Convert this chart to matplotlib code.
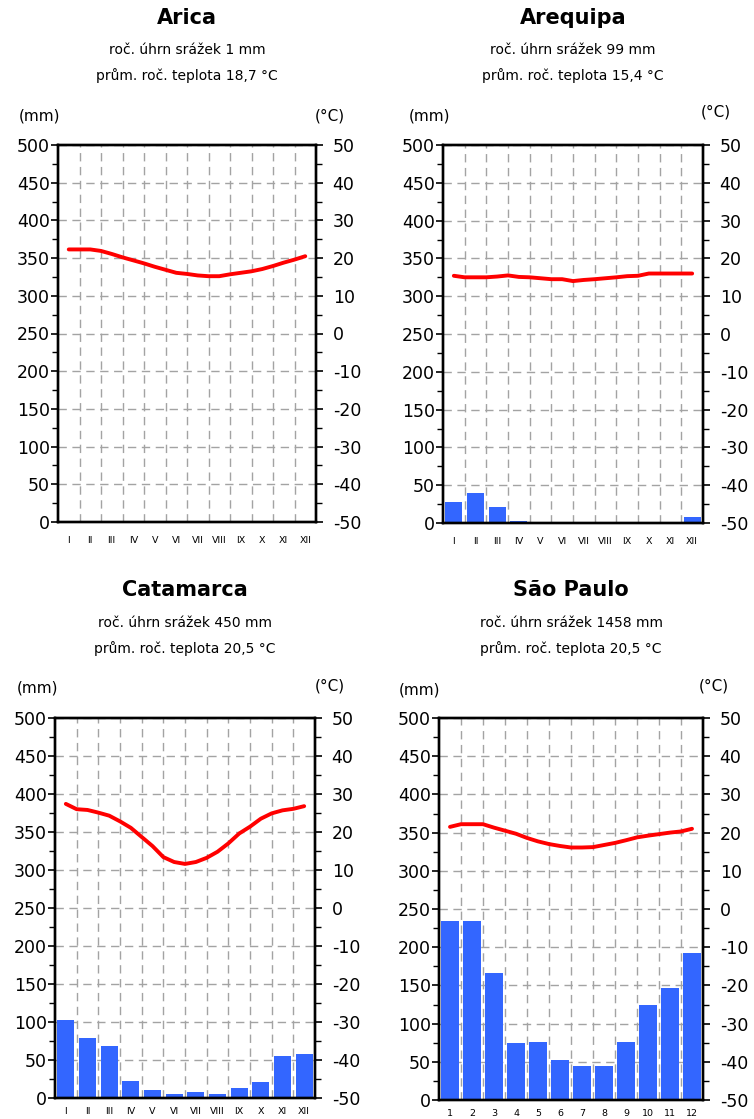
import matplotlib
matplotlib.use("Agg")
import matplotlib.pyplot as plt
from matplotlib.ticker import MultipleLocator, FixedLocator
import numpy as np

plt.rcParams["axes.unicode_minus"] = False

W, H = 754, 1119

# ---------------- data ----------------
months = np.arange(1, 13)
roman_labels = ["I", "II", "III", "IV", "V", "VI", "VII", "VIII", "IX", "X", "XI", "XII"]
arabic_labels = ["1", "2", "3", "4", "5", "6", "7", "8", "9", "10", "11", "12"]
# temperature curve is read at half-month positions (1, 1.5, ..., 12)
temp_pos = np.arange(1, 12.01, 0.5)

stations = ["Arica", "Arequipa", "Catamarca", "São Paulo"]
annual_precip = ["1", "99", "450", "1458"]
annual_temp = ["18,7", "15,4", "20,5", "20,5"]

arica_precip = [0.1, 0.1, 0.1, 0.0, 0.0, 0.1, 0.2, 0.1, 0.1, 0.0, 0.0, 0.1]
arica_temp = [22.3, 22.3, 22.3, 21.9, 21.1, 20.2, 19.4, 18.6, 17.7, 16.9, 16.1, 15.8,
              15.4, 15.2, 15.2, 15.7, 16.1, 16.5, 17.1, 17.9, 18.8, 19.6, 20.5]

arequipa_precip = [28, 40, 21, 2, 0, 0, 0, 0, 0, 0, 0, 8]
arequipa_temp = [15.4, 15.0, 15.0, 15.0, 15.2, 15.5, 15.1, 15.0, 14.75, 14.5, 14.5, 14.0,
                 14.3, 14.5, 14.75, 15.0, 15.3, 15.4, 16.0, 16.0, 16.0, 16.0, 16.0]

catamarca_precip = [103, 79, 68, 23, 10, 5, 7.5, 5, 13, 21, 55, 57.5]
catamarca_temp = [27.4, 26.0, 25.8, 25.1, 24.3, 22.8, 21.1, 18.7, 16.3, 13.4, 12.1, 11.6,
                  12.1, 13.2, 14.8, 17.0, 19.6, 21.4, 23.5, 24.9, 25.7, 26.1, 26.8]

saopaulo_precip = [234, 234, 166, 74, 76, 53, 45, 45, 76, 124, 147, 192]
saopaulo_temp = [21.5, 22.2, 22.2, 22.2, 21.3, 20.5, 19.7, 18.6, 17.7, 17.0, 16.5, 16.1,
                 16.1, 16.2, 16.75, 17.3, 18.0, 18.75, 19.2, 19.6, 20.0, 20.3, 21.0]

precips = [arica_precip, arequipa_precip, catamarca_precip, saopaulo_precip]
temps = [arica_temp, arequipa_temp, catamarca_temp, saopaulo_temp]
xlabels = [roman_labels, roman_labels, roman_labels, arabic_labels]

# ---------------- layout (pixels) ----------------
rects = [(58, 145, 316, 522), (443, 145, 703, 523),
         (55, 718, 315, 1098), (439, 718, 703, 1100)]
title_y = [18, 18, 590, 590]
sub1_y = [50, 50, 623, 623]
sub2_y = [76, 76, 649, 649]
mm_pos = [(40, 116), (430, 116), (38, 688), (420, 690)]
c_pos = [(330, 116), (716, 112), (330, 686), (714, 686)]
xpad = [10, 10, 6.5, 6.5]

BAR = "#3366FF"
GRID = "#a3a3a3"

fig = plt.figure(figsize=(W / 100, H / 100), dpi=100)
fig.patch.set_facecolor("white")


def fx(x):
    return x / W


def fy(y):
    return 1 - y / H


for i in range(4):
    l, t, r, b = rects[i]
    ax = fig.add_axes([l / W, 1 - b / H, (r - l) / W, (b - t) / H])
    ax.set_xlim(0.5, 12.5)
    ax.set_ylim(0, 500)
    ax.set_axisbelow(True)
    ax.bar(months, precips[i], width=0.78, color=BAR, zorder=2)

    ax.set_yticks(np.arange(0, 501, 50))
    ax.yaxis.set_minor_locator(MultipleLocator(25))
    ax.set_xticks(months)
    ax.set_xticklabels(xlabels[i], fontsize=6.8,
                       family=["Liberation Sans Narrow", "DejaVu Sans"])
    ax.xaxis.set_minor_locator(FixedLocator(np.arange(1.5, 12.4, 1)))
    ax.tick_params(axis="x", which="both", length=0, pad=xpad[i])
    ax.tick_params(axis="y", which="major", direction="out", length=5, width=1.2,
                   labelsize=12.5, pad=1)
    ax.tick_params(axis="y", which="minor", direction="out", length=4, width=1.0)
    ax.yaxis.grid(True, which="major", color=GRID, lw=1.0, linestyle=(0, (6, 4)))
    ax.xaxis.grid(True, which="minor", color=GRID, lw=1.0, linestyle=(0, (6, 4)))
    ax.xaxis.grid(False, which="major")
    for s in ax.spines.values():
        s.set_linewidth(1.7)

    ax2 = ax.twinx()
    ax2.set_ylim(-50, 50)
    ax2.plot(temp_pos, temps[i], color="#ff0000", lw=2.8, solid_capstyle="round",
             solid_joinstyle="round", zorder=3)
    ax2.set_yticks(np.arange(-50, 51, 10))
    ax2.yaxis.set_minor_locator(MultipleLocator(5))
    ax2.tick_params(axis="y", which="major", direction="out", length=5, width=1.2,
                    labelsize=12.5, pad=7)
    ax2.tick_params(axis="y", which="minor", direction="out", length=4, width=1.0)
    for s in ax2.spines.values():
        s.set_linewidth(1.7)

    cx = (l + r) / 2
    fig.text(fx(cx), fy(title_y[i]), stations[i], ha="center", va="center",
             fontsize=15, fontweight="bold")
    fig.text(fx(cx), fy(sub1_y[i]), f"roč. úhrn srážek {annual_precip[i]} mm",
             ha="center", va="center", fontsize=10)
    fig.text(fx(cx), fy(sub2_y[i]), f"prům. roč. teplota {annual_temp[i]} °C",
             ha="center", va="center", fontsize=10)
    fig.text(fx(mm_pos[i][0]), fy(mm_pos[i][1]), "(mm)", ha="center", va="center",
             fontsize=11)
    fig.text(fx(c_pos[i][0]), fy(c_pos[i][1]), "(°C)", ha="center", va="center",
             fontsize=11)

fig.savefig("out.png", dpi=100, facecolor="white")
